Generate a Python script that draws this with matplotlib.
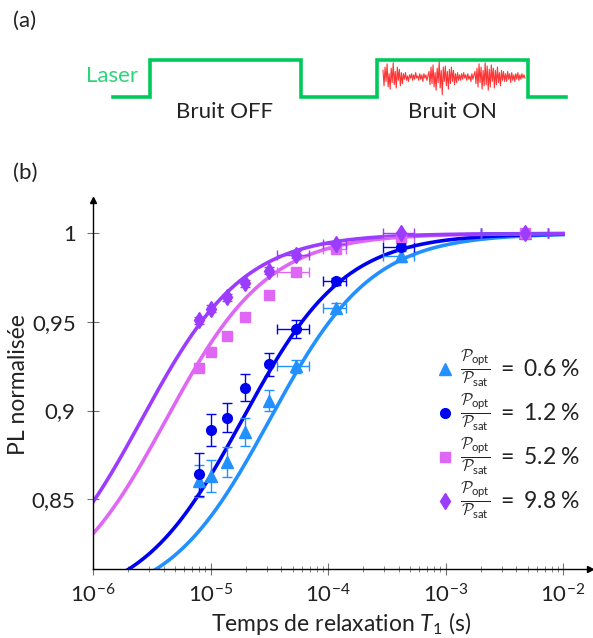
import numpy as np
import matplotlib
matplotlib.use("Agg")
import matplotlib.pyplot as plt
from matplotlib.lines import Line2D
from matplotlib.ticker import FuncFormatter, LogLocator

plt.rcParams["font.family"] = ["Lato", "DejaVu Sans"]
plt.rcParams["mathtext.fontset"] = "custom"
plt.rcParams["mathtext.rm"] = "Lato"
plt.rcParams["mathtext.it"] = "Lato:italic"
plt.rcParams["mathtext.sf"] = "Lato"
plt.rcParams["mathtext.cal"] = "cmsy10"

# ---- data (b) ----
t1 = [8.0e-6, 1.0e-5, 1.38e-5, 1.97e-5, 3.16e-5, 5.3e-5, 1.16e-4, 4.18e-4, 4.75e-3]
t1_low = [8.0e-6, 1.0e-5, 1.38e-5, 1.97e-5, 3.16e-5, 3.7e-5, 9.0e-5, 2.92e-4, 2.0e-3]
t1_high = [8.0e-6, 1.0e-5, 1.38e-5, 1.97e-5, 3.16e-5, 6.9e-5, 1.42e-4, 5.37e-4, 7.4e-3]

pl_06 = [0.860, 0.863, 0.871, 0.888, 0.9055, 0.925, 0.958, 0.987, 1.0]
err_06 = [0.009, 0.009, 0.0085, 0.008, 0.006, 0.0036, 0.003, 0.003, 0.001]
pl_12 = [0.864, 0.889, 0.896, 0.913, 0.926, 0.946, 0.973, 0.9925, 1.0]
err_12 = [0.012, 0.0088, 0.008, 0.0074, 0.0066, 0.005, 0.002, 0.002, 0.001]
pl_52 = [0.924, 0.933, 0.942, 0.953, 0.965, 0.978, 0.991, 0.998, 1.0]
err_52 = [0.0, 0.0, 0.0, 0.0, 0.0, 0.0, 0.0, 0.0, 0.0]
pl_98 = [0.951, 0.9575, 0.964, 0.972, 0.979, 0.988, 0.994, 1.0, 1.0]
err_98 = [0.002, 0.002, 0.002, 0.002, 0.002, 0.002, 0.001, 0.001, 0.001]

labels = ["0.6", "1.2", "5.2", "9.8"]
colors = ["#2291ff", "#0000f0", "#e066f5", "#9b3cff"]
markers = ["^", "o", "s", "d"]
msizes = [8, 7, 6.5, 8]
# fit: PL = 1 - C / (1 + T1 / T0)
fit_c = [0.21, 0.21, 0.21, 0.21]
fit_t0 = [3.2e-5, 1.87e-5, 4.2e-6, 2.6e-6]

# ---- schematic (a) ----
laser_edges = [113, 150, 301, 377, 528, 566]
laser_state = [0, 1, 0, 1, 0]
noise = [0.6, -0.8, 0.9, -0.4, 1.2, -0.9, 0.3, -1.1, 0.8, -0.5, 1.3, -0.7, 0.5, -1.0, 0.9, -0.3, 0.7, -0.8, 0.4, -0.6,
         0.3, -0.2, 0.4, -0.3, 0.1, -0.4, 0.2, -0.1, 0.3, -0.3, 0.2, -0.2, 0.4, -0.1, 0.1, -0.3, 0.3, -0.2, 0.2, -0.4,
         0.3, -0.1, 0.2, -0.3, 0.1,
         0.5, -0.7, 0.9, -0.6, 1.1, -0.9, 0.4, -1.2, 0.8, -0.5, 1.4, -1.0, 0.6, -1.6, 0.9, -0.4, 1.0, -0.8, 0.5, -1.1,
         0.7, -0.6, 0.9, -0.4, 0.6, -0.7, 0.3, -0.5, 0.4, -0.3,
         0.2, -0.3, 0.3, -0.2, 0.4, -0.1, 0.2, -0.3, 0.3, -0.2, 0.1, -0.4, 0.3, -0.2, 0.2,
         0.5, -0.6, 0.8, -0.9, 1.2, -0.5, 0.9, -1.1, 0.6, -0.8, 1.3, -0.7, 1.0, -1.2, 0.7, -0.9, 1.1, -0.4, 0.8, -1.0,
         0.6, -0.7, 0.9, -0.5, 0.4, -0.8, 0.6, -0.3, 0.5, -0.4,
         0.3, -0.4, 0.5, -0.2, 0.3, -0.5, 0.4, -0.3, 0.2, -0.4, 0.3, -0.2, 0.4, -0.3, 0.2, -0.2, 0.3, -0.1, 0.2, -0.1]

W, H = 593, 638
fig = plt.figure(figsize=(W / 100, H / 100), dpi=100)

# overlay in pixel coordinates for panel (a) and panel letters
ov = fig.add_axes([0, 0, 1, 1])
ov.set_xlim(0, W)
ov.set_ylim(H, 0)
ov.axis("off")
ov.patch.set_visible(False)

y_lo, y_hi = 97, 59.5
xs, ys = [], []
for i, s in enumerate(laser_state):
    y = y_hi if s else y_lo
    xs += [laser_edges[i], laser_edges[i + 1]]
    ys += [y, y]
ov.plot(xs, ys, color="#00c95c", lw=2.6, solid_joinstyle="miter")
nx = np.linspace(383, 525, len(noise))
ov.plot(nx, 77 - 11 * np.array(noise), color="#ff3535", lw=0.8)

txt = dict(fontsize=16, ha="center", va="center", color="#222222")
ov.text(25, 21, "(a)", **txt)
ov.text(25, 173, "(b)", **txt)
ov.text(225, 112, "Bruit OFF", **txt)
ov.text(452, 112, "Bruit ON", **txt)
ov.text(112, 76, "Laser", fontsize=16, color="#2ed47a", ha="center", va="center")

# main axes
x0, x1, yb, yt = 93, 590, 569, 200
ax = fig.add_axes([x0 / W, 1 - yb / H, (x1 - x0) / W, (yb - yt) / H])
ax.set_xscale("log")
ax.set_xlim(1e-6, 10 ** ((x1 - x0) / 117.5 - 6))
ax.set_ylim(0.8105, 1.0189)
for s in ["top", "right"]:
    ax.spines[s].set_visible(False)
ax.spines["left"].set_linewidth(1.0)
ax.spines["bottom"].set_linewidth(1.0)
ax.plot(1, 0, ">k", ms=5, transform=ax.transAxes, clip_on=False)
ax.plot(0, 1, "^k", ms=5, transform=ax.transAxes, clip_on=False)

ax.set_yticks([0.85, 0.9, 0.95, 1.0])
ax.yaxis.set_major_formatter(FuncFormatter(lambda v, p: f"{v:g}".replace(".", ",")))
ax.xaxis.set_major_locator(LogLocator(base=10, numticks=10))
ax.xaxis.set_minor_locator(LogLocator(base=10, subs=np.arange(2, 10), numticks=20))
ax.tick_params(which="both", direction="inout", color="0.45", labelsize=16, labelcolor="#222222")
ax.tick_params(which="major", length=9, width=0.8)
ax.tick_params(which="minor", length=5, width=0.6)
ax.tick_params(axis="x", pad=6)
ax.tick_params(axis="y", pad=8)

xfit = np.logspace(-6, -2, 400)
series = [(pl_06, err_06), (pl_12, err_12), (pl_52, err_52), (pl_98, err_98)]
t1a = np.array(t1)
xerr = [t1a - np.array(t1_low), np.array(t1_high) - t1a]
handles = []
for k, (pl, err) in enumerate(series):
    ax.plot(xfit, 1 - fit_c[k] / (1 + xfit / fit_t0[k]), color=colors[k], lw=2.6, zorder=2)
for k, (pl, err) in enumerate(series):
    ax.errorbar(t1, pl, yerr=err, xerr=xerr, fmt=markers[k], color=colors[k], ms=msizes[k],
                ecolor=colors[k], elinewidth=1.0, capsize=3.5, capthick=1.0, zorder=3)
    handles.append(Line2D([], [], ls="none", marker=markers[k], color=colors[k], ms=msizes[k]))

leg_labels = [r"$\frac{\mathcal{P}_{\mathrm{opt}}}{\mathcal{P}_{\mathrm{sat}}}\ =\ %s\;\%%$" % l for l in labels]
leg = ax.legend(handles, leg_labels, loc="center left", bbox_to_anchor=(426 / W, 1 - 435 / H),
                bbox_transform=fig.transFigure, frameon=False, fontsize=16.5, handlelength=0.7,
                handletextpad=0.3, labelspacing=0.08, borderpad=0)
for t in leg.get_texts():
    t.set_color("#222222")

ax.set_xlabel(r"Temps de relaxation $T_1$ (s)", fontsize=16.5, labelpad=2, color="#222222")
ax.set_ylabel("PL normalisée", fontsize=16.5, labelpad=2, color="#222222")

fig.savefig("out.png", dpi=100)
